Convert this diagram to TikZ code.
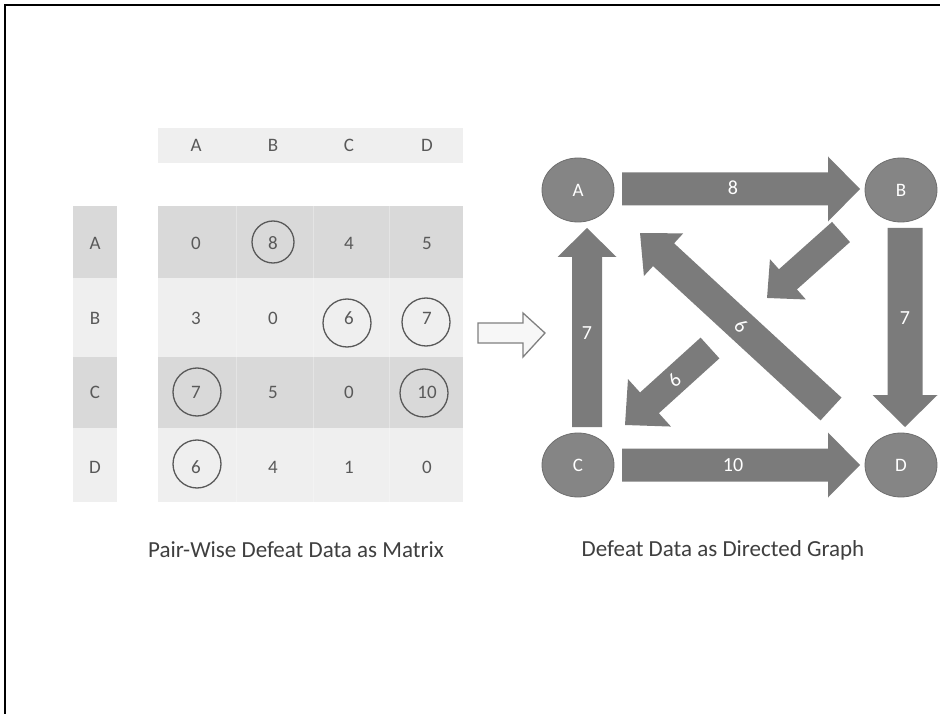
\documentclass[tikz,border=0pt]{standalone}
\usepackage{fontspec}
\setmainfont{Carlito}
\usetikzlibrary{shapes.geometric}

\definecolor{rowdark}{HTML}{D9D9D9}
\definecolor{rowlight}{HTML}{EFEFEF}
\definecolor{celltext}{HTML}{595959}
\definecolor{captiontext}{HTML}{3F3F3F}
\definecolor{blockgray}{HTML}{7B7B7B}
\definecolor{vertexgray}{HTML}{858585}
\definecolor{vertexline}{HTML}{6E6E6E}
\definecolor{hollowline}{HTML}{808080}

% Block arrow from a named tail to a named tip:
% #3 shaft half width, #4 head half width, #5 head length
\newcommand\blockarrow[5]{%
  \pgfmathanglebetweenpoints{\pgfpointanchor{#1}{center}}{\pgfpointanchor{#2}{center}}%
  \let\baAngle\pgfmathresult
  \pgfpointdiff{\pgfpointanchor{#1}{center}}{\pgfpointanchor{#2}{center}}%
  \pgfgetlastxy{\baDx}{\baDy}%
  \pgfmathveclen{\baDx}{\baDy}%
  \let\baLen\pgfmathresult
  \begin{scope}[shift={(#1)}, rotate=\baAngle]
    \fill[blockgray] (0pt,-#3) -- ({\baLen pt-#5},-#3) -- ({\baLen pt-#5},-#4)
      -- (\baLen pt,0pt) -- ({\baLen pt-#5},#4) -- ({\baLen pt-#5},#3)
      -- (0pt,#3) -- cycle;
  \end{scope}}

\tikzset{
  cell/.style={text=celltext, font=\fontsize{19}{22}\selectfont, inner sep=0pt},
  ring/.style={circle, draw=celltext, line width=1.3pt, minimum size=48pt, inner sep=0pt},
  vertex/.style={ellipse, fill=vertexgray, draw=vertexline, line width=0.8pt,
    minimum width=72pt, minimum height=64pt, inner sep=0pt,
    text=white, font=\fontsize{19}{22}\selectfont},
  weight/.style={text=white, font=\fontsize{20}{23}\selectfont, inner sep=0pt},
  caption/.style={text=captiontext, font=\fontsize{23}{27}\selectfont, inner sep=0pt},
}

\begin{document}
\begin{tikzpicture}[x=1pt, y=-1pt]
\useasboundingbox (0,0) rectangle (940,714);
\fill[white] (0,0) rectangle (940,714);
% frame on top and left
\draw[line width=2pt] (5,714) -- (5,5) -- (940,5);

% ---------- matrix ----------
\fill[rowlight] (158,128) rectangle (463,163);
\fill[rowdark]  (73,206) rectangle (117,278);
\fill[rowlight] (73,278) rectangle (117,357);
\fill[rowdark]  (73,357) rectangle (117,428);
\fill[rowlight] (73,428) rectangle (117,502);
\fill[rowdark]  (158,206) rectangle (463,278);
\fill[rowlight] (158,278) rectangle (463,357);
\fill[rowdark]  (158,357) rectangle (463,428);
\fill[rowlight] (158,428) rectangle (463,502);
\foreach \cx in {236,313,389}
  \draw[white, opacity=0.3, line width=1pt] (\cx,206) -- (\cx,502);

% column headers
\node[cell] (hA) at (196,145) {A};
\node[cell] (hB) at (273,145) {B};
\node[cell] (hC) at (349,145) {C};
\node[cell] (hD) at (427,145) {D};
% row labels
\node[cell] (rA) at (95,243) {A};
\node[cell] (rB) at (95,318) {B};
\node[cell] (rC) at (95,392) {C};
\node[cell] (rD) at (95,467) {D};

% entries
\node[cell] (mAA) at (196,243) {0};
\node[cell] (mAB) at (273,243) {8};
\node[cell] (mAC) at (349,243) {4};
\node[cell] (mAD) at (427,243) {5};
\node[cell] (mBA) at (196,318) {3};
\node[cell] (mBB) at (273,318) {0};
\node[cell] (mBC) at (349,318) {6};
\node[cell] (mBD) at (427,318) {7};
\node[cell] (mCA) at (196,392) {7};
\node[cell] (mCB) at (273,392) {5};
\node[cell] (mCC) at (349,392) {0};
\node[cell] (mCD) at (427,392) {10};
\node[cell] (mDA) at (196,467) {6};
\node[cell] (mDB) at (273,467) {4};
\node[cell] (mDC) at (349,467) {1};
\node[cell] (mDD) at (427,467) {0};

% winning entries
\node[ring, minimum size=42pt] (cAB) at (273,242) {};
\node[ring] (cBC) at (347,323) {};
\node[ring] (cBD) at (426,322) {};
\node[ring] (cCA) at (197,392) {};
\node[ring] (cCD) at (424,393) {};
\node[ring] (cDA) at (197,464) {};

\node[caption] (capM) at (296,550) {Pair-Wise Defeat Data as Matrix};

% ---------- transition arrow ----------
\draw[hollowline, fill=white!97!black, line width=1.3pt, line join=miter]
  (478,323) -- (523,323) -- (523,313) -- (545,333) -- (523,357)
  -- (523,343) -- (478,343) -- cycle;

% ---------- directed graph ----------
\coordinate (ABt) at (622,189);  \coordinate (ABh) at (860,189);
\coordinate (CDt) at (622,465);  \coordinate (CDh) at (860,465);
\coordinate (CAt) at (587,427);  \coordinate (CAh) at (587,228);
\coordinate (BDt) at (905,228);  \coordinate (BDh) at (905,427);
\coordinate (DAt) at (831,409);  \coordinate (DAh) at (640,233);
\coordinate (BCt) at (841,232);  \coordinate (BCh) at (767,298);
\coordinate (BCt2) at (710,348); \coordinate (BCh2) at (625,425);

\blockarrow{ABt}{ABh}{16.5pt}{32.5pt}{32pt}
\blockarrow{CDt}{CDh}{16.5pt}{32.5pt}{32pt}
\blockarrow{CAt}{CAh}{15pt}{29.5pt}{29pt}
\blockarrow{BDt}{BDh}{17.5pt}{32.5pt}{32pt}
\blockarrow{DAt}{DAh}{15.5pt}{29pt}{32pt}
\blockarrow{BCt}{BCh}{13.5pt}{27pt}{28pt}
\blockarrow{BCt2}{BCh2}{14pt}{32pt}{33pt}

\node[weight] (wAB) at (733,188) {8};
\node[weight] (wCD) at (733,465) {10};
\node[weight] (wCA) at (587,333) {7};
\node[weight] (wBD) at (905,318) {7};
\path (DAt) -- (DAh) node[weight, pos=0.47, sloped] (wDA) {6};
\path (BCt2) -- (BCh2) node[weight, pos=0.42, sloped] (wBC) {6};

\node[vertex] (A) at (578,190) {A};
\node[vertex] (B) at (901,190) {B};
\node[vertex] (C) at (578,465) {C};
\node[vertex] (D) at (901,465) {D};

\node[caption] (capG) at (723,550) {Defeat Data as Directed Graph};
\end{tikzpicture}
\end{document}
